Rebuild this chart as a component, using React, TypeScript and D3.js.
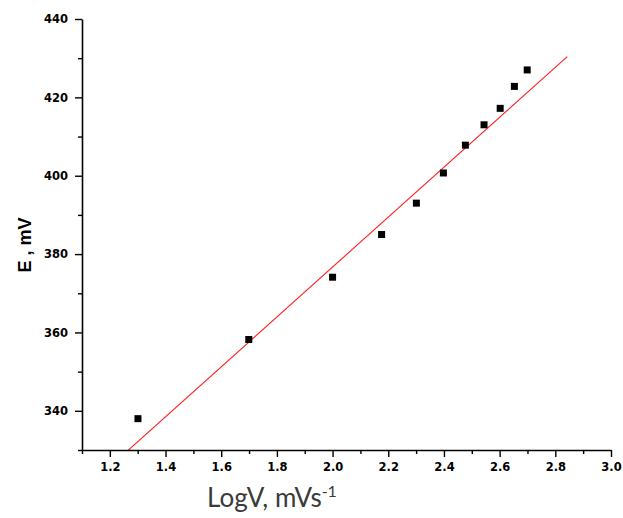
import * as d3 from "d3";
import { useRef, useEffect } from "react";

// scan rate (log) vs peak potential
const logV = [1.301, 1.699, 2.0, 2.176, 2.301, 2.398, 2.477, 2.544, 2.602, 2.653, 2.699];
const potential = [338, 358.2, 374.1, 385, 393, 400.7, 407.8, 413, 417.2, 422.8, 427];

// linear fit (red line)
const fitSlope = 63.7;
const fitIntercept = 249.3;
const fitRange = [1.25, 2.843];

const xMajor = [1.2, 1.4, 1.6, 1.8, 2.0, 2.2, 2.4, 2.6, 2.8, 3.0];
const xMinor = [1.1, 1.3, 1.5, 1.7, 1.9, 2.1, 2.3, 2.5, 2.7, 2.9];
const yMajor = [340, 360, 380, 400, 420, 440];
const yMinor = [330, 350, 370, 390, 410, 430];

export default function App() {
  const width = 623;
  const height = 518;
  const left = 82;
  const right = 611;
  const top = 19;
  const bottom = 450;

  const gx = useRef<SVGGElement>(null);
  const gxMinor = useRef<SVGGElement>(null);
  const gy = useRef<SVGGElement>(null);
  const gyMinor = useRef<SVGGElement>(null);

  const x = d3.scaleLinear([1.1, 3.0], [left, right]);
  const y = d3.scaleLinear([330, 440], [bottom, top]);

  useEffect(() => {
    const styleAxis = (g: d3.Selection<SVGGElement, unknown, null, undefined>) => {
      g.select(".domain").attr("stroke-width", 1.6);
      g.selectAll(".tick line").attr("stroke-width", 1.4);
      g.selectAll(".tick text")
        .attr("fill", "#000")
        .style("font-family", "'DejaVu Sans', sans-serif")
        .style("font-weight", "bold")
        .style("font-size", "11.5px");
    };
    d3.select(gx.current!)
      .call(
        d3.axisBottom(x).tickValues(xMajor).tickFormat(d3.format(".1f")).tickSize(7).tickSizeOuter(0).tickPadding(6)
      )
      .call(styleAxis);
    d3.select(gxMinor.current!)
      .call(d3.axisBottom(x).tickValues(xMinor).tickFormat(() => "").tickSize(4).tickSizeOuter(0))
      .call((g) => g.select(".domain").remove())
      .call(styleAxis);
    d3.select(gy.current!)
      .call(d3.axisLeft(y).tickValues(yMajor).tickFormat(d3.format("d")).tickSize(7).tickSizeOuter(0).tickPadding(7))
      .call(styleAxis);
    d3.select(gyMinor.current!)
      .call(d3.axisLeft(y).tickValues(yMinor).tickFormat(() => "").tickSize(4).tickSizeOuter(0))
      .call((g) => g.select(".domain").remove())
      .call(styleAxis);
  }, []);

  const fitLine = d3.line<number>(
    (d) => x(d),
    (d) => y(fitIntercept + fitSlope * d)
  );

  return (
    <svg
      width={width}
      height={height}
      style={{ position: "absolute", left: 0, top: 0, background: "#fff" }}
    >
      <defs>
        <clipPath id="plot">
          <rect x={left} y={0} width={right - left} height={bottom} />
        </clipPath>
      </defs>
      {/* fit line */}
      <path
        d={fitLine(fitRange) ?? ""}
        fill="none"
        stroke="#ff2020"
        strokeWidth={1.1}
        clipPath="url(#plot)"
      />
      {/* data points */}
      <g fill="#000">
        {logV.map((d, i) => (
          <rect key={i} x={x(d) - 3.5} y={y(potential[i]) - 3.5} width={7} height={7} />
        ))}
      </g>
      <g ref={gxMinor} transform={`translate(0,${bottom})`} />
      <g ref={gyMinor} transform={`translate(${left},0)`} />
      <g ref={gx} transform={`translate(0,${bottom})`} />
      <g ref={gy} transform={`translate(${left},0)`} />
      {/* axis titles */}
      <text
        x={272}
        y={507}
        textAnchor="middle"
        fill="#3a3a3a"
        style={{ fontFamily: "Lato, 'Open Sans', sans-serif", fontSize: 26 }}
      >
        LogV, mVs
        <tspan dy={-10} style={{ fontSize: 16 }}>-1</tspan>
      </text>
      <text
        transform={`translate(31,${245}) rotate(-90)`}
        textAnchor="middle"
        fill="#000"
        style={{ fontFamily: "'Liberation Sans', Arial, sans-serif", fontWeight: "bold", fontSize: 18 }}
      >
        E , mV
      </text>
    </svg>
  );
}
